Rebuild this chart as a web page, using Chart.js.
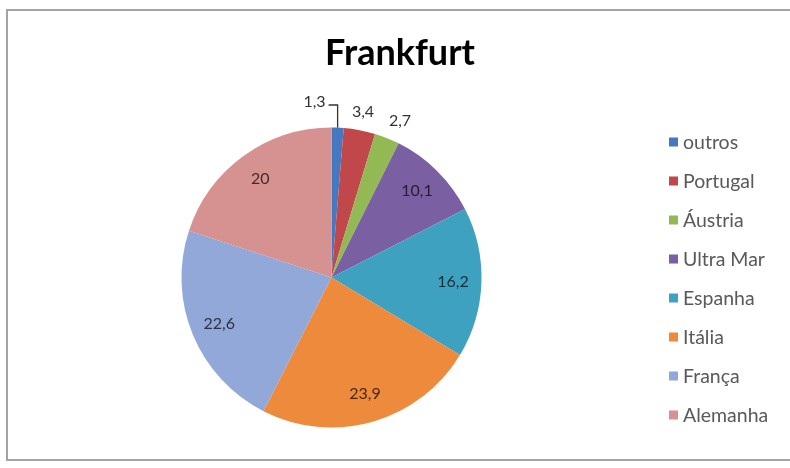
<!DOCTYPE html>
<html>
<head>
<meta charset="utf-8">
<script src="https://cdn.jsdelivr.net/npm/chart.js@4.4.0/dist/chart.umd.min.js"></script>
<style>
  body { margin: 0; background: #fff; overflow: hidden; }
  #wrap { position: relative; width: 790px; height: 468px; overflow: hidden; }
  #frame { position: absolute; left: 6px; top: 9px; width: 784px; height: 452px; border: 2px solid #a3a3a3; border-right: none; box-sizing: border-box; }
  #c { position: absolute; left: 0; top: 0; }
</style>
</head>
<body>
<div id="wrap">
  <div id="frame"></div>
  <canvas id="c" width="790" height="468"></canvas>
</div>
<script>
// chart data
const title = 'Frankfurt';
const labels = ['outros', 'Portugal', 'Áustria', 'Ultra Mar', 'Espanha', 'Itália', 'França', 'Alemanha'];
const values = [1.3, 3.4, 2.7, 10.1, 16.2, 23.9, 22.6, 20];
const colors = ['#4678bf', '#c0474a', '#93b955', '#7b5fa3', '#3fa1c0', '#ee8a3b', '#92a8d8', '#d69290'];

// small slices get their label outside the pie
const outside = [true, true, true, false, false, false, false, false];

function darken(hex, f) {
  const n = parseInt(hex.slice(1), 16);
  const r = Math.round(((n >> 16) & 255) * f);
  const g = Math.round(((n >> 8) & 255) * f);
  const b = Math.round((n & 255) * f);
  return `rgb(${r},${g},${b})`;
}

const fmt = v => String(v).replace('.', ',');

// title, legend and value labels
const decor = {
  id: 'decor',
  afterDatasetsDraw(chart) {
    const ctx = chart.ctx;
    const meta = chart.getDatasetMeta(0);
    ctx.save();

    // value labels
    ctx.font = '16px Lato';
    ctx.textAlign = 'center';
    ctx.textBaseline = 'middle';
    meta.data.forEach((arc, i) => {
      const p = arc.getProps(['x', 'y', 'startAngle', 'endAngle', 'outerRadius'], true);
      const mid = (p.startAngle + p.endAngle) / 2;
      const r = p.outerRadius;
      const txt = fmt(values[i]);
      if (i === 0) {
        // leader line for the thinnest slice
        const x0 = p.x + Math.cos(mid) * r;
        const y0 = p.y + Math.sin(mid) * r;
        const y1 = p.y - r * 1.15;
        ctx.strokeStyle = '#333';
        ctx.lineWidth = 1.3;
        ctx.beginPath();
        ctx.moveTo(x0, y0);
        ctx.lineTo(x0, y1);
        ctx.lineTo(x0 - 9, y1);
        ctx.stroke();
        ctx.fillStyle = '#333';
        ctx.textAlign = 'right';
        ctx.fillText(txt, x0 - 12, y1 - 3);
        ctx.textAlign = 'center';
        return;
      }
      const k = outside[i] ? 1.125 : 0.81;
      const x = p.x + Math.cos(mid) * r * k + (i === 2 ? 6 : 0);
      const y = p.y + Math.sin(mid) * r * k;
      ctx.fillStyle = outside[i] ? '#333' : darken(colors[i], 0.3);
      ctx.fillText(txt, x, y);
    });

    // title
    ctx.font = 'bold 36px Lato';
    ctx.fillStyle = '#000';
    ctx.textAlign = 'center';
    ctx.textBaseline = 'alphabetic';
    ctx.fillText(title, 400, 65);

    // legend
    ctx.font = '19.5px Lato';
    ctx.textAlign = 'left';
    ctx.textBaseline = 'middle';
    labels.forEach((lab, i) => {
      const y = 142 + i * 39;
      ctx.fillStyle = colors[i];
      ctx.fillRect(669, y - 4.5, 9, 9);
      ctx.fillStyle = '#595959';
      ctx.fillText(lab, 683, y + 1);
    });
    ctx.restore();
  }
};

new Chart(document.getElementById('c'), {
  type: 'pie',
  data: {
    labels: labels,
    datasets: [{ data: values, backgroundColor: colors, borderWidth: 0 }]
  },
  options: {
    responsive: false,
    animation: false,
    layout: { padding: { left: 181.5, right: 308.5, top: 127.5, bottom: 40.5 } },
    plugins: { legend: { display: false }, tooltip: { enabled: false } }
  },
  plugins: [decor]
});
</script>
</body>
</html>
